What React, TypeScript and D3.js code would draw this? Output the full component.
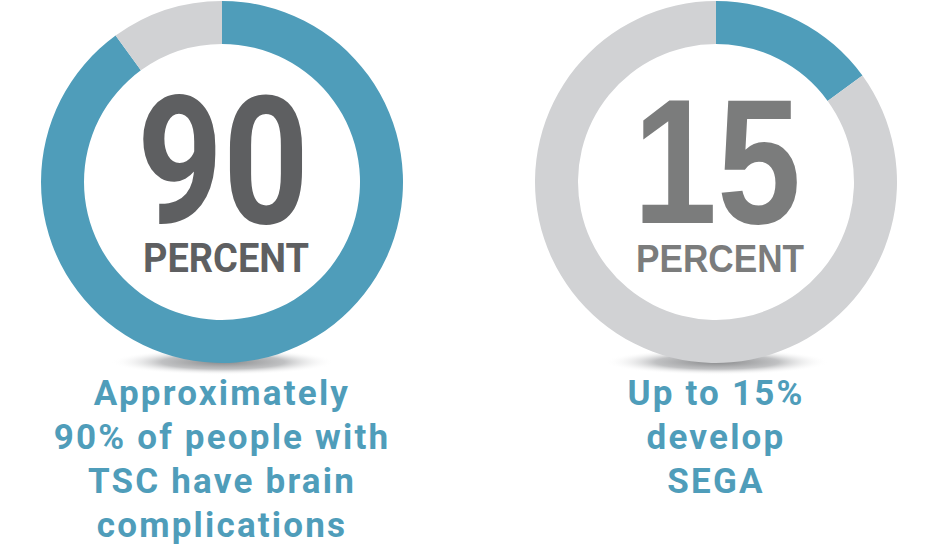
import { useMemo } from "react"
import * as d3 from "d3"

// values shown in each ring (percent)
const percentValues = [90, 15]
const percentLabels = ["90", "15"]
const unitLabels = ["PERCENT", "PERCENT"]
const captions = [
  ["Approximately", "90% of people with", "TSC have brain", "complications"],
  ["Up to 15%", "develop", "SEGA"],
]

const WIDTH = 936
const HEIGHT = 548
const BLUE = "#4f9dba"
const RING_GRAY = "#d1d2d4"
const numberColors = ["#5e5f61", "#7b7c7c"]
const numberFonts = ["Roboto, 'DejaVu Sans', sans-serif", "'Liberation Sans', Arial, sans-serif"]

export default function App() {
  const x = useMemo(() => d3.scalePoint<number>().domain([0, 1]).range([222, 716]), [])
  const outerR = 181
  const innerR = 138
  const cy = 182

  const pie = d3.pie<number>().sort(null).value(d => d)
  const arc = d3.arc<d3.PieArcDatum<number>>().innerRadius(innerR).outerRadius(outerR)

  return (
    <div style={{ position: "absolute", left: 0, top: 0, width: WIDTH, height: HEIGHT, background: "#fff" }}>
      <svg width={WIDTH} height={HEIGHT}>
        <defs>
          <radialGradient id="shadow-grad" cx="50%" cy="50%" r="50%">
            <stop offset="0%" stopColor="#88898b" stopOpacity={1} />
            <stop offset="55%" stopColor="#b5b6b8" stopOpacity={0.85} />
            <stop offset="100%" stopColor="#ffffff" stopOpacity={0} />
          </radialGradient>
        </defs>
        {percentValues.map((v, i) => {
          const cx = x(i)!
          const slices = pie([v, 100 - v])
          return (
            <g key={i} transform={`translate(${cx},${cy})`}>
              <ellipse cx={1} cy={180} rx={112} ry={13} fill="url(#shadow-grad)" />
              <circle r={innerR} fill="#fff" />
              {slices.map((s, j) => (
                <path key={j} d={arc(s) || ""} fill={j === 0 ? BLUE : RING_GRAY} />
              ))}
              <text
                x={1}
                y={41}
                textAnchor="middle"
                fontFamily={numberFonts[i]}
                fontWeight={700}
                fontSize={178}
                fill={numberColors[i]}
                textLength={i === 0 ? 172 : 168}
                lengthAdjust="spacingAndGlyphs"
              >
                {percentLabels[i]}
              </text>
              <text
                x={4}
                y={90}
                textAnchor="middle"
                fontFamily={numberFonts[i]}
                fontWeight={700}
                fontSize={i === 0 ? 40 : 38}
                fill={numberColors[i]}
                textLength={i === 0 ? 166 : 168}
                lengthAdjust="spacingAndGlyphs"
              >
                {unitLabels[i]}
              </text>
              {captions[i].map((line, k) => (
                <text
                  key={k}
                  x={0}
                  y={223 + k * 44}
                  textAnchor="middle"
                  fontFamily="Roboto, sans-serif"
                  fontWeight={700}
                  fontSize={35}
                  letterSpacing={2.2}
                  fill={BLUE}
                >
                  {line}
                </text>
              ))}
            </g>
          )
        })}
      </svg>
    </div>
  )
}
